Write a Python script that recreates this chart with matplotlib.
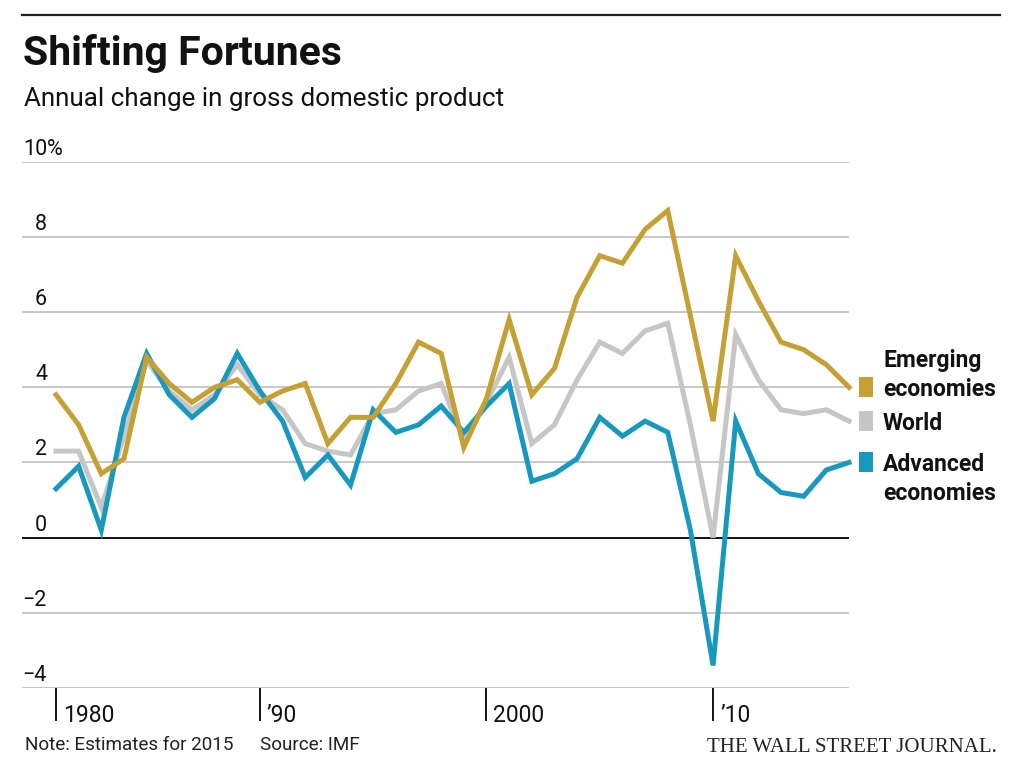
import matplotlib
matplotlib.use("Agg")
import matplotlib.pyplot as plt
from matplotlib import font_manager as fm
from matplotlib.lines import Line2D
from matplotlib.patches import Rectangle

# ---------------- data ----------------
years = list(range(1980, 2016))
emerging = [3.8, 3.0, 1.7, 2.1, 4.8, 4.1, 3.6, 4.0, 4.2, 3.6,
            3.9, 4.1, 2.5, 3.2, 3.2, 4.1, 5.2, 4.9, 2.4, 3.7,
            5.8, 3.8, 4.5, 6.4, 7.5, 7.3, 8.2, 8.7, 5.9, 3.1,
            7.5, 6.3, 5.2, 5.0, 4.6, 4.0]
world = [2.3, 2.3, 0.8, 2.7, 4.7, 3.9, 3.4, 3.8, 4.6, 3.8,
         3.4, 2.5, 2.3, 2.2, 3.3, 3.4, 3.9, 4.1, 2.6, 3.6,
         4.8, 2.5, 3.0, 4.2, 5.2, 4.9, 5.5, 5.7, 3.0, 0.0,
         5.4, 4.2, 3.4, 3.3, 3.4, 3.1]
advanced = [1.3, 1.9, 0.2, 3.2, 4.9, 3.8, 3.2, 3.7, 4.9, 3.9,
            3.1, 1.6, 2.2, 1.4, 3.4, 2.8, 3.0, 3.5, 2.8, 3.5,
            4.1, 1.5, 1.7, 2.1, 3.2, 2.7, 3.1, 2.8, 0.2, -3.4,
            3.1, 1.7, 1.2, 1.1, 1.8, 2.0]

series_names = [["Emerging", "economies"], ["World"], ["Advanced", "economies"]]
y_ticks = [10, 8, 6, 4, 2, 0, -2, -4]
x_tick_pos = [1980, 1989, 1999, 2009]
x_tick_labels = ["1980", "\u201990", "2000", "\u201910"]
title = "Shifting Fortunes"
subtitle = "Annual change in gross domestic product"
note = "Note: Estimates for 2015"
source = "Source: IMF"
brand = "THE WALL STREET JOURNAL."

# ---------------- style ----------------
C_EM = "#C4A035"
C_WO = "#C6C6C6"
C_AD = "#1898BE"
GRID = "#BEBEBE"

names = {f.name for f in fm.fontManager.ttflist}
NARROW = "Liberation Sans Narrow" if "Liberation Sans Narrow" in names else "Roboto"
BODY = "Roboto" if "Roboto" in names else "DejaVu Sans"
fam_narrow = [NARROW, "DejaVu Sans"]
fam_body = [BODY, "DejaVu Sans"]

W, H = 1024, 783
fig = plt.figure(figsize=(W / 100, H / 100), dpi=100)

def fx(px):
    return px / W

def fy(py):
    return 1 - py / H

ax_left, ax_right, ax_top, ax_bot = 22, 849, 161.7, 688
ax = fig.add_axes([fx(ax_left), fy(ax_bot), fx(ax_right - ax_left), (ax_bot - ax_top) / H])
ax.set_xlim(1978.5, 2015)
ax.set_ylim(-4, 10)
for s in ax.spines.values():
    s.set_visible(False)
ax.set_yticks([])
ax.set_xticks(x_tick_pos)
ax.set_xticklabels([])
ax.tick_params(axis="x", direction="out", length=24, width=1.3, color="black")

for v in y_ticks:
    if v == 0:
        ax.axhline(v, color="black", lw=1.3, zorder=2)
    else:
        ax.axhline(v, color=GRID, lw=1.2, zorder=1)
    lab = str(v).replace("-", "\u2212")
    ax.annotate(lab, xy=(0, v), xycoords=("axes fraction", "data"),
                xytext=(25, 7), textcoords="offset pixels",
                ha="right", va="baseline", fontsize=15.5, family=fam_body, color="#111111")
    if v == y_ticks[0]:
        ax.annotate("%", xy=(0, v), xycoords=("axes fraction", "data"),
                    xytext=(25, 7), textcoords="offset pixels",
                    ha="left", va="baseline", fontsize=15.5, family=fam_body, color="#111111")

for xp, xl in zip(x_tick_pos, x_tick_labels):
    ax.annotate(xl, xy=(xp, 0), xycoords=("data", "axes fraction"),
                xytext=(7, -34), textcoords="offset pixels",
                ha="left", va="baseline", fontsize=16.5, family=fam_body, color="#111111")

lw = 3.6
ax.plot(years, world, color=C_WO, lw=lw, zorder=3, solid_joinstyle="miter", clip_on=False)
ax.plot(years, advanced, color=C_AD, lw=lw, zorder=4, solid_joinstyle="miter", clip_on=False)
ax.plot(years, emerging, color=C_EM, lw=lw, zorder=5, solid_joinstyle="miter", clip_on=False)

# legend anchored at series end values
leg = [(emerging, C_EM, series_names[0], 1), (world, C_WO, series_names[1], 0),
       (advanced, C_AD, series_names[2], 0)]
for vals, col, lines, anchor_idx in leg:
    end_x, end_y = years[-1], vals[-1]
    disp = ax.transData.transform((end_x, end_y))
    px, py = disp[0], disp[1]
    fig.patches.append(Rectangle((px + 10, py - 10), 14, 20, transform=None,
                                 facecolor=col, edgecolor="none"))
    for i, t in enumerate(lines):
        dy = (anchor_idx - i) * 29
        fig.text((px + 34) / W, (py + dy) / H, t, ha="left", va="center_baseline",
                 fontsize=16.5, fontweight="bold", family=fam_narrow, color="#111111")

# title block
fig.add_artist(Line2D([fx(22), fx(1000)], [fy(14.7), fy(14.7)], color="#222222", lw=1.6))
fig.text(fx(23), fy(65), title, ha="left", va="baseline", fontsize=29.5,
         fontweight="bold", family=fam_narrow, color="#111111")
fig.text(fx(24), fy(106), subtitle, ha="left", va="baseline", fontsize=18.7,
         family=fam_body, color="#111111")

# footer
fig.text(fx(25), fy(750), note, ha="left", va="baseline", fontsize=13.6,
         family=fam_narrow, color="#222222")
fig.text(fx(260), fy(750), source, ha="left", va="baseline", fontsize=13.6,
         family=fam_narrow, color="#222222")
fig.text(fx(997), fy(752), brand, ha="right", va="baseline", fontsize=15,
         family=["Liberation Serif", "DejaVu Serif"], color="#222222")

fig.savefig("out.png", dpi=100)
